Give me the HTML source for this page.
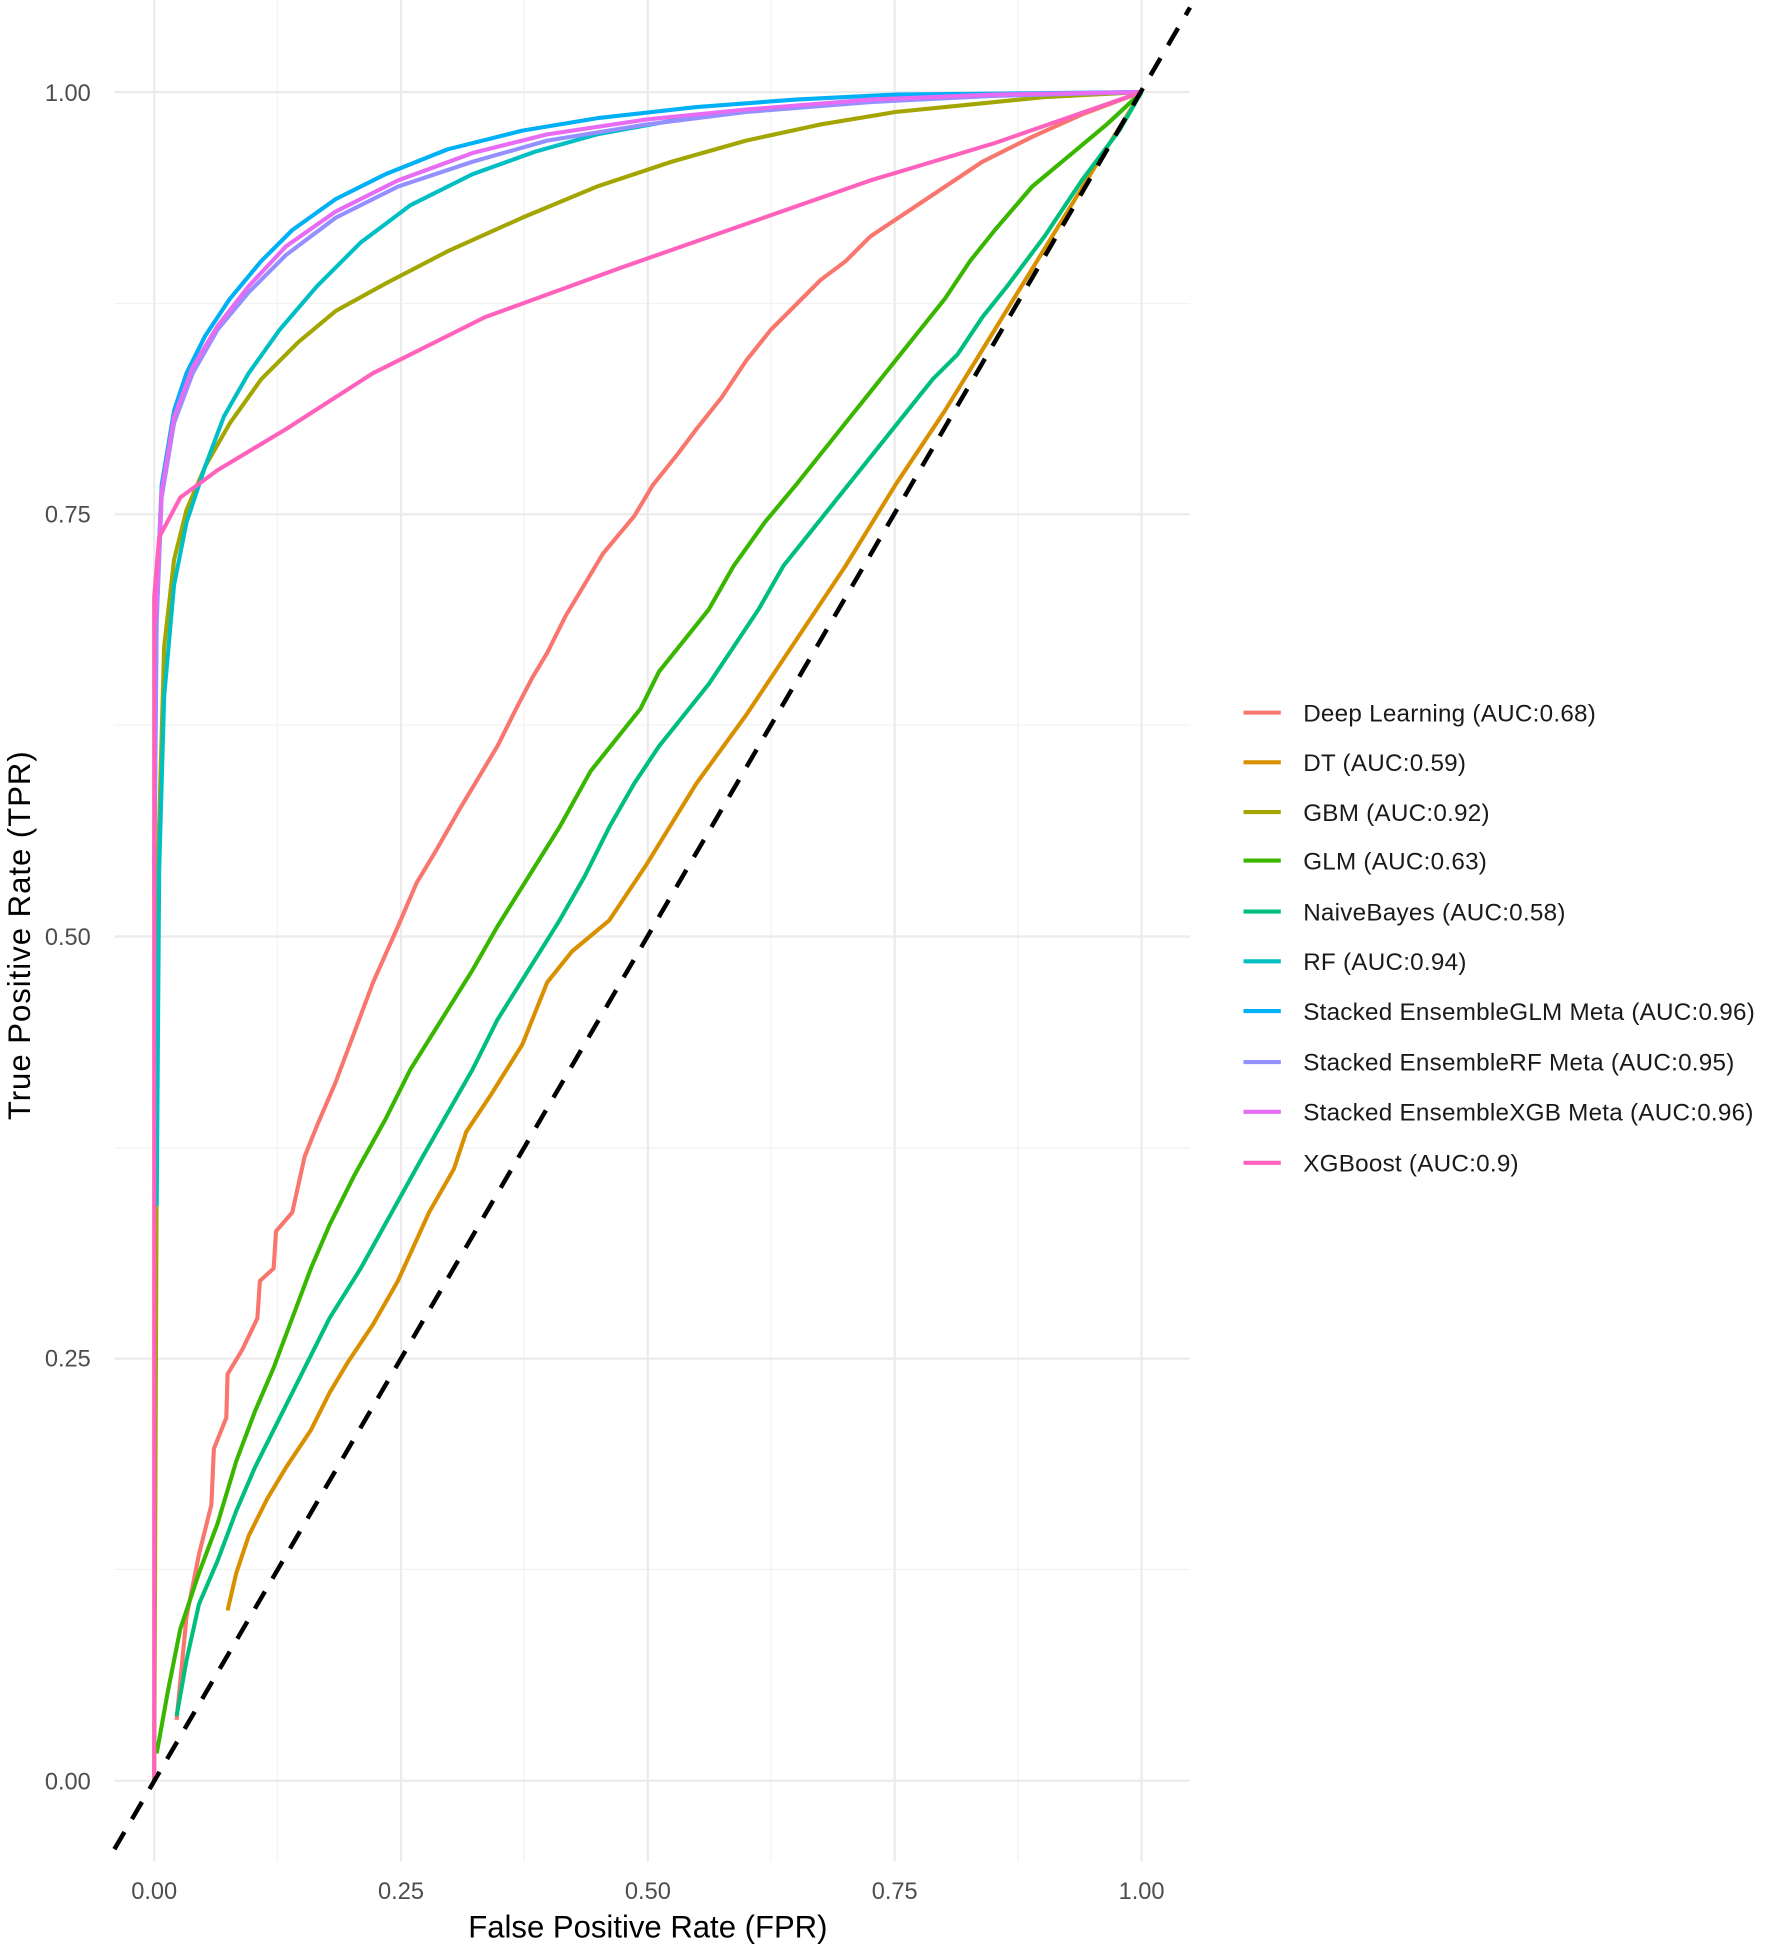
<!DOCTYPE html>
<html><head><meta charset="utf-8"><style>html,body{margin:0;padding:0;background:#fff}svg{display:block}</style></head><body>
<svg width="1772" height="1950" viewBox="0 0 1425 1568" xmlns="http://www.w3.org/2000/svg" font-family="Liberation Sans, sans-serif">
<rect width="1425" height="1568" fill="#fff"/>
<g stroke="#f2f2f2" stroke-width="1">
<line x1="92" x2="957" y1="1262" y2="1262"/><line x1="92" x2="957" y1="923" y2="923"/><line x1="92" x2="957" y1="583" y2="583"/><line x1="92" x2="957" y1="244" y2="244"/>
<line x1="223" x2="223" y1="0" y2="1497"/><line x1="421.5" x2="421.5" y1="0" y2="1497"/><line x1="620" x2="620" y1="0" y2="1497"/><line x1="818.5" x2="818.5" y1="0" y2="1497"/>
</g>
<g stroke="#ebebeb" stroke-width="1.8">
<line x1="92" x2="957" y1="1432" y2="1432"/><line x1="92" x2="957" y1="1092.5" y2="1092.5"/><line x1="92" x2="957" y1="753" y2="753"/><line x1="92" x2="957" y1="413.5" y2="413.5"/><line x1="92" x2="957" y1="74" y2="74"/>
<line x1="124" x2="124" y1="0" y2="1497"/><line x1="322.5" x2="322.5" y1="0" y2="1497"/><line x1="521" x2="521" y1="0" y2="1497"/><line x1="719.5" x2="719.5" y1="0" y2="1497"/><line x1="918" x2="918" y1="0" y2="1497"/>
</g>
<g fill="none" stroke-width="3.3" stroke-linejoin="round">
<polyline stroke="#F8766D" points="142,1383 150,1300 160,1250 170,1210 172,1165 182,1140 183,1105 195,1085 207,1060 209,1030 220,1020 222,990 235,975 245,930 255,905 270,870 285,830 300,790 320,745 335,710 350,685 370,650 385,625 400,600 415,570 428,545 440,525 455,495 470,470 485,445 510,415 525,390 545,365 560,345 580,320 600,290 620,265 640,245 660,225 680,210 700,190 730,170 760,150 790,130 830,110 870,92 918,74"/>
<polyline stroke="#D89000" points="183,1295 190,1265 200,1235 215,1205 230,1180 250,1150 265,1120 280,1095 300,1065 320,1030 345,975 365,940 375,910 395,880 420,840 440,790 460,765 490,740 520,695 560,630 600,575 640,515 680,455 720,390 760,330 800,265 840,200 880,135 918,74"/>
<polyline stroke="#A3A500" points="124,1432 127,700 132,520 140,450 150,410 165,375 185,340 210,305 240,275 270,250 310,228 360,202 420,175 480,150 540,130 600,113 660,100 720,90 780,84 840,78 918,74"/>
<polyline stroke="#39B600" points="126,1410 135,1360 145,1310 160,1265 175,1225 190,1175 205,1135 220,1100 235,1060 250,1020 265,985 285,945 310,900 330,860 355,820 380,780 400,745 425,705 450,665 475,620 495,595 515,570 530,540 550,515 570,490 590,455 615,420 640,390 660,365 680,340 700,315 720,290 740,265 760,240 780,210 800,185 830,150 860,125 890,100 918,74"/>
<polyline stroke="#00BF7D" points="142,1380 150,1335 160,1290 175,1255 190,1215 205,1180 225,1140 245,1100 265,1060 290,1020 315,975 340,930 360,895 380,860 400,820 425,780 450,740 470,705 490,665 510,630 530,600 550,575 570,550 590,520 610,490 630,455 650,430 670,405 690,380 710,355 730,330 750,305 770,285 790,255 810,230 840,190 870,145 900,105 918,74"/>
<polyline stroke="#00BFC4" points="126,970 128,700 132,560 140,470 150,420 165,375 180,335 200,300 225,265 255,230 290,195 330,165 380,140 430,122 480,108 540,97 600,89 680,82 760,77 918,74"/>
<polyline stroke="#00B0F6" points="124,700 126,480 130,390 140,330 150,300 165,270 185,240 210,210 235,185 270,160 310,140 360,120 420,105 480,95 560,86 640,80 720,76 918,74"/>
<polyline stroke="#9590FF" points="124,720 126,500 130,400 140,340 155,300 175,265 200,235 230,205 270,175 320,150 380,130 440,113 520,100 600,90 700,82 800,77 918,74"/>
<polyline stroke="#E76BF3" points="125,500 130,395 140,335 155,295 175,262 200,230 230,198 270,170 320,145 380,123 440,108 520,96 600,88 700,80 800,76 918,74"/>
<polyline stroke="#FF62BC" points="124,1432 124,480 128,432 145,400 175,378 230,345 300,300 390,255 500,215 600,180 700,145 800,115 918,74"/>
</g>
<line x1="92" y1="1487" x2="957" y2="6" stroke="#000" stroke-width="3.6" stroke-dasharray="16 12"/>
<g font-size="19" fill="#4d4d4d" text-anchor="end">
<text x="73" y="1439">0.00</text><text x="73" y="1099">0.25</text><text x="73" y="760">0.50</text><text x="73" y="420">0.75</text><text x="73" y="81">1.00</text>
</g>
<g font-size="19" fill="#4d4d4d" text-anchor="middle">
<text x="124" y="1527">0.00</text><text x="322.5" y="1527">0.25</text><text x="521" y="1527">0.50</text><text x="719.5" y="1527">0.75</text><text x="918" y="1527">1.00</text>
</g>
<text x="521" y="1558" font-size="25" text-anchor="middle" fill="#000">False Positive Rate (FPR)</text>
<text transform="translate(24,752) rotate(-90)" font-size="25" text-anchor="middle" fill="#000" letter-spacing="0.8">True Positive Rate (TPR)</text>
<g stroke-width="3.3">
<line x1="1000" x2="1030" y1="573" y2="573" stroke="#F8766D"/>
<line x1="1000" x2="1030" y1="613" y2="613" stroke="#D89000"/>
<line x1="1000" x2="1030" y1="653" y2="653" stroke="#A3A500"/>
<line x1="1000" x2="1030" y1="692" y2="692" stroke="#39B600"/>
<line x1="1000" x2="1030" y1="733" y2="733" stroke="#00BF7D"/>
<line x1="1000" x2="1030" y1="773" y2="773" stroke="#00BFC4"/>
<line x1="1000" x2="1030" y1="813" y2="813" stroke="#00B0F6"/>
<line x1="1000" x2="1030" y1="854" y2="854" stroke="#9590FF"/>
<line x1="1000" x2="1030" y1="894" y2="894" stroke="#E76BF3"/>
<line x1="1000" x2="1030" y1="935" y2="935" stroke="#FF62BC"/>
</g>
<g font-size="19.5" fill="#1a1a1a" letter-spacing="0.2">
<text x="1048" y="580">Deep Learning (AUC:0.68)</text>
<text x="1048" y="620">DT (AUC:0.59)</text>
<text x="1048" y="660">GBM (AUC:0.92)</text>
<text x="1048" y="699">GLM (AUC:0.63)</text>
<text x="1048" y="740">NaiveBayes (AUC:0.58)</text>
<text x="1048" y="780">RF (AUC:0.94)</text>
<text x="1048" y="820">Stacked EnsembleGLM Meta (AUC:0.96)</text>
<text x="1048" y="861">Stacked EnsembleRF Meta (AUC:0.95)</text>
<text x="1048" y="901">Stacked EnsembleXGB Meta (AUC:0.96)</text>
<text x="1048" y="942">XGBoost (AUC:0.9)</text>
</g>
</svg>
</body></html>
